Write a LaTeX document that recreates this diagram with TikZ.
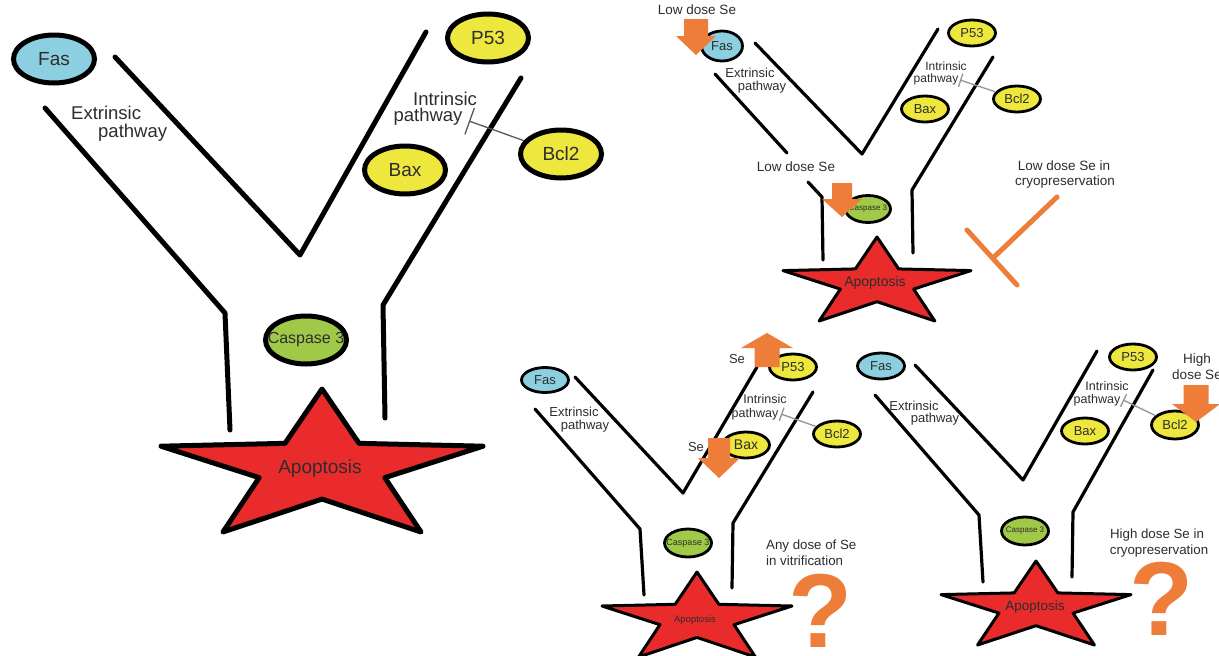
\documentclass[tikz,border=0pt]{standalone}
\usepackage{fontspec}
\setmainfont{Liberation Sans}
\usetikzlibrary{shapes.geometric,arrows.meta}
\definecolor{fasblue}{RGB}{140,207,224}
\definecolor{molyellow}{RGB}{237,231,62}
\definecolor{casgreen}{RGB}{160,201,72}
\definecolor{starred}{RGB}{234,43,43}
\definecolor{seorange}{RGB}{239,125,58}
\definecolor{textgray}{RGB}{45,45,45}
\tikzset{
  lab/.style={text=textgray, inner sep=0pt, font=\fontsize{#1}{#1}\selectfont},
  bigmol/.style={ellipse, draw=black, line width=5pt, minimum width=81pt, minimum height=48pt, inner sep=0pt, fill=#1},
  smallmol/.style={ellipse, draw=black, line width=2.8pt, minimum width=47pt, minimum height=26pt, inner sep=0pt, fill=#1},
  bigline/.style={draw=black, line width=5pt, line cap=round, line join=round},
  smallline/.style={draw=black, line width=3.2pt, line cap=round, line join=round},
  inhbig/.style={draw=black!65, line width=1.3pt, -{Bar[width=28pt, line width=1.3pt]}},
  inhsmall/.style={draw=black!40, line width=1.4pt, -{Bar[width=14pt, line width=1.4pt]}},
  tbar/.style={draw=seorange, line width=5pt, line cap=round},
  qmark/.style={text=seorange, inner sep=0pt, anchor=base, text height=74pt, text depth=0pt, font=\fontsize{105}{105}\selectfont\bfseries},
}
\newcommand\blockarrow[6]{\fill[seorange] (#1-#3,#2) -- (#1+#3,#2) -- (#1+#3,#4) -- (#1+#5,#4) -- (#1,#6) -- (#1-#5,#4) -- (#1-#3,#4) -- cycle;}
\newcommand\apostar[5]{%
  \begin{scope}[shift={(#1,#2)}, xscale=#3, yscale=#4]
    \filldraw[fill=starred, draw=black, line width=#5, line join=round]
      (0,0) -- (0.23,0.38) -- (1,0.40) -- (0.39,0.62) -- (0.615,1) -- (0,0.77)
      -- (-0.615,1) -- (-0.39,0.62) -- (-1,0.40) -- (-0.23,0.38) -- cycle;
  \end{scope}}
\begin{document}
\begin{tikzpicture}[x=1pt, y=-1pt]
\useasboundingbox (0,0) rectangle (1219,656);
\fill[white] (0,0) rectangle (1219,656);

%% ================= Panel A (left, large) =================
\draw[bigline] (45,108) -- (225,313) -- (230,430);
\draw[bigline] (115,57) -- (300,255) -- (426,32);
\draw[bigline] (521,78) -- (383,305) -- (385,418);
\apostar{322}{389}{161}{143}{5pt}
\node[lab=19] (apoA) at (320,469) {Apoptosis};
\node[bigmol=fasblue] (fasA) at (54,59) {};
\node[lab=19] (fasAt) at (fasA) {Fas};
\node[bigmol=molyellow] (p53A) at (488,38) {};
\node[lab=19] (p53At) at (p53A) {P53};
\node[bigmol=molyellow] (baxA) at (405,170) {};
\node[lab=19] (baxAt) at (baxA) {Bax};
\node[bigmol=molyellow] (bclA) at (561,154) {};
\node[lab=19] (bclAt) at (bclA) {Bcl2};
\node[bigmol=casgreen] (casA) at (306,340) {};
\node[lab=16] (casAt) at (casA) {Caspase 3};
\node[lab=18.5, anchor=west] (extA1) at (71,113) {Extrinsic};
\node[lab=18.5, anchor=west] (extA2) at (98,133) {pathway};
\node[lab=18.5] (intA1) at (445,99) {Intrinsic};
\node[lab=18.5] (intA2) at (428,117) {pathway};
\coordinate (barA) at (469,121);
\draw[inhbig] (bclA) -- (barA);

%% ================= Panel B (top right) =================
\draw[smallline] (715,74) -- (787,153);
\draw[smallline] (808,182) -- (822,197) -- (823,260);
\draw[smallline] (755,43) -- (862,154) -- (938,29);
\draw[smallline] (993,57) -- (912,190) -- (913,253);
\apostar{877}{237}{94}{84}{3pt}
\node[lab=14] (apoB) at (875,283) {Apoptosis};
\node[smallmol=fasblue, minimum width=41pt, minimum height=30pt] (fasB) at (722,46) {};
\node[lab=13] (fasBt) at (fasB) {Fas};
\node[smallmol=molyellow] (p53B) at (972,33) {};
\node[lab=13] (p53Bt) at (p53B) {P53};
\node[smallmol=molyellow] (baxB) at (925,109) {};
\node[lab=13] (baxBt) at (baxB) {Bax};
\node[smallmol=molyellow] (bclB) at (1017,99) {};
\node[lab=13] (bclBt) at (bclB) {Bcl2};
\node[smallmol=casgreen, minimum width=45pt, minimum height=27pt] (casB) at (868,209) {};
\node[lab=8] (casBt) at (casB) {Caspase 3};
\node[lab=13] (extB1) at (750,73) {Extrinsic};
\node[lab=13] (extB2) at (762,87) {pathway};
\node[lab=12] (intB1) at (946,66) {Intrinsic};
\node[lab=12] (intB2) at (936,79) {pathway};
\coordinate (barB) at (960,80);
\draw[inhsmall] (bclB) -- (barB);
\node[lab=13.5] (lowB1) at (697,10) {Low dose Se};
\node[lab=13.5] (lowB2) at (796,167) {Low dose Se};
\blockarrow{696}{19}{12}{36}{20}{55}
\blockarrow{842}{183}{10}{199}{20}{217}
\coordinate (tA) at (1057,197);
\coordinate (tB) at (993,258);
\coordinate (tC) at (967,230);
\coordinate (tD) at (1017,285);
\draw[tbar] (tA) -- (tB);
\draw[tbar] (tC) -- (tD);
\node[lab=13.5] (cryB1) at (1064,166) {Low dose Se in};
\node[lab=13.5] (cryB2) at (1065,182) {cryopreservation};

%% ================= Panel C (bottom middle) =================
\draw[smallline] (535,409) -- (640,529) -- (644,595);
\draw[smallline] (575,377) -- (683,493) -- (757,367);
\draw[smallline] (813,392) -- (733,523) -- (732,588);
\apostar{697}{572}{95}{85}{3pt}
\node[lab=9.5] (apoC) at (695,620) {Apoptosis};
\node[smallmol=fasblue, minimum height=25pt] (fasC) at (545,380) {};
\node[lab=13] (fasCt) at (fasC) {Fas};
\node[smallmol=molyellow] (p53C) at (793,367) {};
\node[lab=13] (p53Ct) at (p53C) {P53};
\node[smallmol=molyellow] (baxC) at (746,445) {};
\node[lab=14] (baxCt) at (baxC) {Bax};
\node[smallmol=molyellow] (bclC) at (837,434) {};
\node[lab=13] (bclCt) at (bclC) {Bcl2};
\node[smallmol=casgreen, minimum height=28pt] (casC) at (688,543) {};
\node[lab=9] (casCt) at (casC) {Caspase 3};
\node[lab=13] (extC1) at (574,412) {Extrinsic};
\node[lab=13] (extC2) at (585,426) {pathway};
\node[lab=12.5] (intC1) at (765,399) {Intrinsic};
\node[lab=12.5] (intC2) at (755,414) {pathway};
\coordinate (barC) at (781,414);
\draw[inhsmall] (bclC) -- (barC);
\blockarrow{767}{367}{12.5}{348}{26}{333}
\blockarrow{719}{438}{11}{458}{21}{478}
\node[lab=13] (seC1) at (737,359) {Se};
\node[lab=13] (seC2) at (696,447) {Se};
\node[lab=13.3, anchor=west] (anyC1) at (766,546) {Any dose of Se};
\node[lab=13.3, anchor=west] (anyC2) at (766,561) {in vitrification};
\node[qmark] (qC) at (821,647) {?};

%% ================= Panel D (bottom right) =================
\draw[smallline] (875,395) -- (979,515) -- (983,582);
\draw[smallline] (915,365) -- (1023,480) -- (1097,351);
\draw[smallline] (1153,370) -- (1073,512) -- (1072,577);
\apostar{1036}{561}{95}{84}{3pt}
\node[lab=13.5] (apoD) at (1035,607) {Apoptosis};
\node[smallmol=fasblue] (fasD) at (881,366) {};
\node[lab=13] (fasDt) at (fasD) {Fas};
\node[smallmol=molyellow] (p53D) at (1133,357) {};
\node[lab=13] (p53Dt) at (p53D) {P53};
\node[smallmol=molyellow] (baxD) at (1085,431) {};
\node[lab=13] (baxDt) at (baxD) {Bax};
\node[smallmol=molyellow, minimum height=28pt] (bclD) at (1175,425) {};
\node[lab=13] (bclDt) at (bclD) {Bcl2};
\node[smallmol=casgreen, minimum height=28pt] (casD) at (1025,531) {};
\node[lab=8] (casDt) at (casD) {Caspase 3};
\node[lab=13] (extD1) at (914,406) {Extrinsic};
\node[lab=13] (extD2) at (935,419) {pathway};
\node[lab=12.5] (intD1) at (1107,386) {Intrinsic};
\node[lab=12.5] (intD2) at (1097,400) {pathway};
\coordinate (barD) at (1123,400);
\draw[inhsmall] (bclD) -- (barD);
\node[lab=13.5] (hiD1) at (1197,360) {High};
\node[lab=13.5] (hiD2) at (1197,375) {dose Se};
\blockarrow{1196}{385}{12.5}{404}{24}{422}
\node[lab=13.3] (cryD1) at (1157,535) {High dose Se in};
\node[lab=13.3] (cryD2) at (1159,551) {cryopreservation};
\node[qmark] (qD) at (1162,635) {?};
\end{tikzpicture}
\end{document}
